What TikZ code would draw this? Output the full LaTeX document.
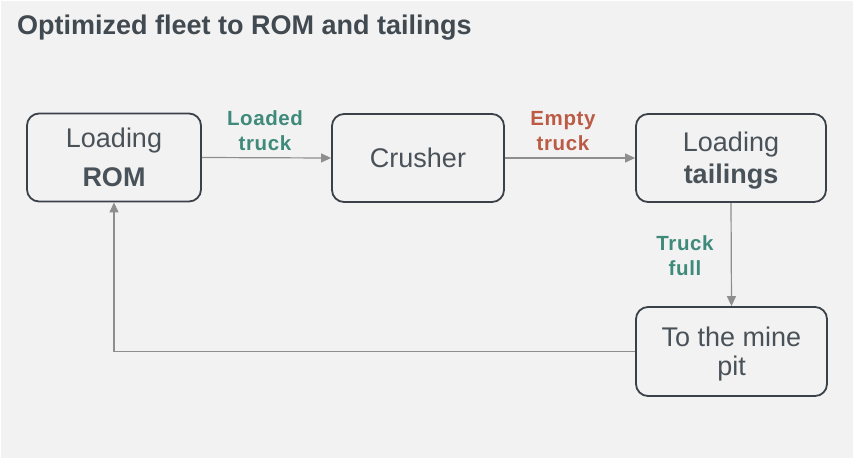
\documentclass[tikz,border=0pt]{standalone}
\usepackage{fontspec}
\setmainfont{Liberation Sans}
\usetikzlibrary{arrows.meta}
\definecolor{bgc}{HTML}{F2F2F2}
\definecolor{titc}{HTML}{414951}
\definecolor{boxc}{HTML}{3A4149}
\definecolor{txtc}{HTML}{4A5259}
\definecolor{arrc}{HTML}{8E8E8E}
\definecolor{tealc}{HTML}{3F8A7A}
\definecolor{redc}{HTML}{BB5B45}
\tikzset{
  stepbox/.style={draw=boxc, line width=1.8pt, rounded corners=12pt, fill=bgc,
    text=txtc, align=center, inner sep=0pt},
  arr/.style={draw=arrc, line width=1.2pt, -{Triangle[length=10pt,width=9pt]}},
  lbl/.style={font=\bfseries\fontsize{20.5}{25}\selectfont\addfontfeatures{LetterSpace=3}, align=center, inner sep=0pt}
}
\begin{document}
\begin{tikzpicture}[x=1pt,y=-1pt]
\useasboundingbox (0,0) rectangle (854,459);
\fill[bgc] (1,1) rectangle (853,458);
\node[anchor=base west, text=titc, font=\bfseries\fontsize{27}{30}\selectfont, inner sep=0pt] (title) at (17,34) {Optimized fleet to ROM and tailings};
\node[stepbox, minimum width=174pt, minimum height=88pt, font=\fontsize{27}{40}\selectfont] (rom) at (114,157.5) {Loading\\[-1pt]\textbf{ROM}};
\node[stepbox, minimum width=172pt, minimum height=88pt, font=\fontsize{27}{30}\selectfont] (crusher) at (418,158) {Crusher};
\node[stepbox, minimum width=190pt, minimum height=88pt] (tail) at (731,158) {};
\node[text=txtc, align=center, inner sep=0pt, font=\fontsize{27}{32}\selectfont] (tailtxt) at (731,161) {Loading\\\textbf{tailings}};
\node[stepbox, minimum width=191pt, minimum height=89pt] (pit) at (731.5,351.5) {};
\node[text=txtc, align=center, inner sep=0pt, font=\fontsize{27}{29}\selectfont] (pittxt) at (731.5,354) {To the mine\\pit};
\draw[arr] (rom.east) -- (crusher.west);
\draw[arr] (crusher.east) -- (tail.west);
\draw[arr] (tail.south) -- (pit.north);
\draw[arr] (pit.west) -| (rom.south);
\node[lbl, text=tealc] (l1) at (265,131) {Loaded\\truck};
\node[lbl, text=redc] (l2) at (563,131) {Empty\\truck};
\node[lbl, text=tealc] (l3) at (685,255.5) {Truck\\full};
\end{tikzpicture}
\end{document}
